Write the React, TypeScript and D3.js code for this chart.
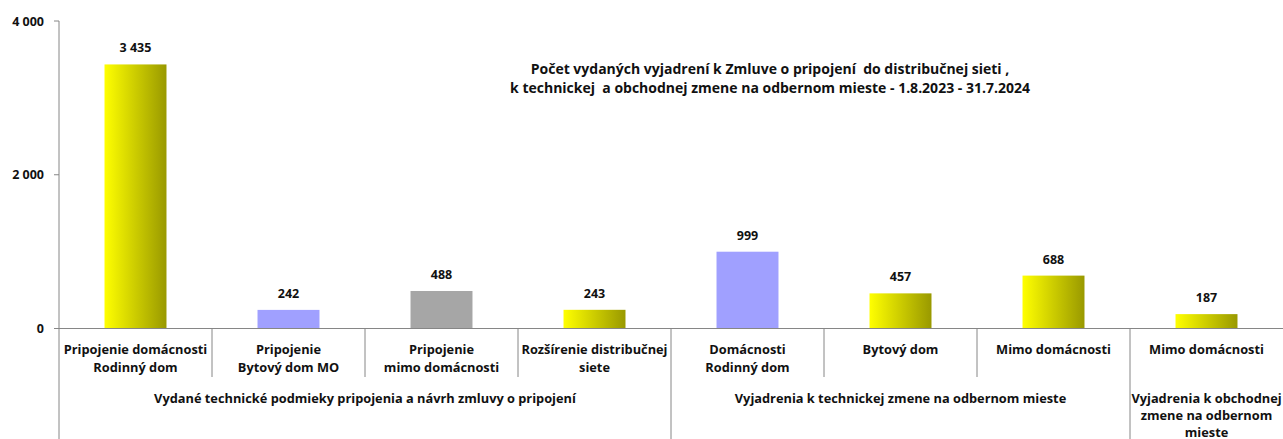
import React from "react";
import * as d3 from "d3";

const categories = [
  "Pripojenie domácnosti\nRodinný dom",
  "Pripojenie\nBytový dom MO",
  "Pripojenie\nmimo domácnosti",
  "Rozšírenie distribučnej\nsiete",
  "Domácnosti\nRodinný dom",
  "Bytový dom",
  "Mimo domácnosti",
  "Mimo domácnosti",
];
const values = [3435, 242, 488, 243, 999, 457, 688, 187];
const barColors = ["yellow", "lavender", "gray", "yellow", "lavender", "yellow", "yellow", "yellow"];
const groups = [
  { label: ["Vydané technické podmieky pripojenia a návrh zmluvy o pripojení"], from: 0, to: 3 },
  { label: ["Vyjadrenia k technickej zmene na odbernom mieste"], from: 4, to: 6 },
  { label: ["Vyjadrenia k obchodnej", "zmene na odbernom", "mieste"], from: 7, to: 7 },
];
const yTicks = [0, 2000, 4000];
const titleLines = [
  "Počet vydaných vyjadrení k Zmluve o pripojení  do distribučnej sieti ,",
  "k technickej  a obchodnej zmene na odbernom mieste - 1.8.2023 - 31.7.2024",
];

const W = 1283;
const H = 439;
const FONT = "'Open Sans', 'Noto Sans', sans-serif";
const AXIS = "#868686";

export default function App() {
  const keys = categories.map((_, i) => String(i));
  const x = d3.scaleBand<string>().domain(keys).range([59, 1283]).paddingInner(0).paddingOuter(0);
  const y = d3.scaleLinear().domain([0, 4000]).range([328.5, 21]);
  const fmt = d3.formatLocale({ decimal: ",", thousands: "\u00a0", grouping: [3], currency: ["", " €"] }).format(",d");
  const bw = x.bandwidth();
  const barW = bw * 0.405;
  const fillFor = (c: string) =>
    c === "yellow" ? "url(#gradYellow)" : c === "lavender" ? "#a0a0ff" : "#a6a6a6";
  const y0 = y(0);

  return (
    <svg width={W} height={H} style={{ position: "absolute", left: 0, top: 0, background: "#fff" }} fontFamily={FONT}>
      <defs>
        <linearGradient id="gradYellow" x1="0" x2="1" y1="0" y2="0">
          <stop offset="0%" stopColor="#ffff00" />
          <stop offset="100%" stopColor="#999900" />
        </linearGradient>
      </defs>

      {/* title */}
      {titleLines.map((t, i) => (
        <text key={i} x={770} y={74 + i * 19} textAnchor="middle" fontSize={14} fontWeight="bold" fill="#111" style={{ whiteSpace: "pre" }}>
          {t}
        </text>
      ))}

      {/* y axis */}
      <line x1={59} x2={59} y1={y(4000)} y2={H} stroke={AXIS} strokeWidth={1} />
      {yTicks.map((t) => (
        <g key={t}>
          <line x1={54} x2={59} y1={y(t)} y2={y(t)} stroke={AXIS} />
          <text x={44} y={y(t) + 4.5} textAnchor="end" fontSize={12.5} fontWeight="bold" fill="#111">
            {fmt(t)}
          </text>
        </g>
      ))}

      {/* bars */}
      {values.map((v, i) => {
        const cx = (x(String(i)) as number) + bw / 2;
        return (
          <g key={i}>
            <rect x={cx - barW / 2} y={y(v)} width={barW} height={y0 - y(v)} fill={fillFor(barColors[i])} />
            <text x={cx} y={y(v) - 12} textAnchor="middle" fontSize={12.5} fontWeight="bold" fill="#111">
              {fmt(v)}
            </text>
          </g>
        );
      })}

      {/* x axis line */}
      <line x1={59} x2={W} y1={y0} y2={y0} stroke={AXIS} strokeWidth={1.2} />

      {/* category separators */}
      {keys.slice(1).map((k, i) => {
        const isGroup = groups.some((g) => g.from === i + 1);
        return (
          <line key={k} x1={x(k) as number} x2={x(k) as number} y1={y0} y2={isGroup ? H : 377} stroke={AXIS} />
        );
      })}

      {/* category labels */}
      {categories.map((c, i) => {
        const cx = (x(String(i)) as number) + bw / 2;
        return c.split("\n").map((line, j) => (
          <text key={`${i}-${j}`} x={cx} y={353.5 + j * 18.5} textAnchor="middle" fontSize={12.8} fontWeight="bold" fill="#111">
            {line}
          </text>
        ));
      })}

      {/* group labels */}
      {groups.map((g, gi) => {
        const x1 = x(String(g.from)) as number;
        const x2 = (x(String(g.to)) as number) + bw;
        const cx = (x1 + x2) / 2;
        return g.label.map((line, j) => (
          <text key={`${gi}-${j}`} x={cx} y={402.5 + j * 17} textAnchor="middle" fontSize={12.8} fontWeight="bold" fill="#111">
            {line}
          </text>
        ));
      })}
    </svg>
  );
}
